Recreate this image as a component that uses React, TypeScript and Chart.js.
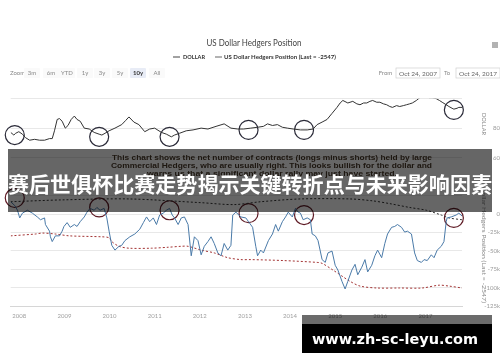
import React, { useEffect, useRef } from "react";
import { Chart, registerables } from "chart.js";

Chart.register(...registerables);

// ---------- data ----------
const X_MIN = 2007.81; // Oct 24, 2007
const X_MAX = 2017.81; // Oct 24, 2017
const yearTicks = [2008, 2009, 2010, 2011, 2012, 2013, 2014, 2015, 2016, 2017];
const dollarTicks = [60, 80, 100];
const hedgerTicks = [25, 0, -25, -50, -75, -100, -125];

const dollarDates = [
  2007.81, 2007.88, 2007.92, 2007.99, 2008.07, 2008.14, 2008.23, 2008.34, 2008.45, 2008.56,
  2008.67, 2008.73, 2008.78, 2008.84, 2008.89, 2008.95, 2009.02, 2009.08, 2009.15, 2009.22,
  2009.28, 2009.35, 2009.44, 2009.55, 2009.66, 2009.77, 2009.83, 2009.9, 2009.99, 2010.12,
  2010.27, 2010.36, 2010.43, 2010.54, 2010.65, 2010.78, 2010.89, 2011.0, 2011.15, 2011.26,
  2011.37, 2011.44, 2011.55, 2011.7, 2011.85, 2012.03, 2012.18, 2012.36, 2012.54, 2012.69,
  2012.84, 2012.97, 2013.13, 2013.28, 2013.41, 2013.5, 2013.61, 2013.72, 2013.83, 2013.94,
  2014.07, 2014.23, 2014.38, 2014.51, 2014.6, 2014.71, 2014.82, 2014.93, 2015.04, 2015.11,
  2015.17, 2015.28, 2015.39, 2015.48, 2015.55, 2015.63, 2015.7, 2015.77, 2015.83, 2015.92,
  2015.99, 2016.07, 2016.14, 2016.21, 2016.27, 2016.36, 2016.43, 2016.51, 2016.58, 2016.65,
  2016.71, 2016.8, 2016.87, 2016.93, 2016.98, 2017.04, 2017.09, 2017.15, 2017.24, 2017.31,
  2017.37, 2017.46, 2017.52, 2017.59, 2017.63, 2017.7, 2017.74, 2017.81,
];
const dollarValues = [
  77.1, 75.3, 76.5, 77.6, 75.9, 73.5, 71.8, 72.4, 71.8, 71.8,
  72.9, 72.9, 78.2, 85.9, 86.5, 84.7, 80.0, 81.8, 85.9, 88.2,
  85.9, 84.7, 80.0, 79.4, 77.1, 75.9, 75.3, 76.5, 78.2, 80.0,
  82.4, 85.3, 87.6, 84.1, 82.4, 77.6, 79.4, 80.0, 77.1, 75.9,
  74.1, 75.3, 76.5, 78.2, 78.8, 80.0, 79.4, 81.2, 82.9, 80.0,
  79.4, 79.4, 80.0, 80.6, 81.2, 82.9, 81.8, 82.4, 80.6, 80.0,
  79.4, 78.8, 78.8, 79.4, 82.4, 84.1, 85.9, 90.0, 94.1, 97.1,
  98.8, 97.1, 98.2, 96.5, 95.9, 97.1, 97.1, 98.2, 98.8, 97.6,
  97.6, 96.5, 95.9, 94.7, 94.1, 95.3, 94.7, 95.3, 95.9, 96.5,
  97.1, 98.8, 100.6, 102.4, 103.5, 101.8, 100.6, 100.6, 100.0, 98.8,
  97.6, 95.9, 94.7, 93.5, 92.9, 93.5, 94.1, 94.1,
];

// US Dollar Hedgers Position, thousands of contracts
const hedgerDates = [
  2007.81, 2007.9, 2007.96, 2008.01, 2008.07, 2008.18, 2008.29, 2008.4, 2008.47, 2008.56,
  2008.58, 2008.67, 2008.69, 2008.73, 2008.8, 2008.89, 2008.95, 2008.99, 2009.06, 2009.13,
  2009.22, 2009.28, 2009.35, 2009.44, 2009.5, 2009.57, 2009.66, 2009.72, 2009.79, 2009.88,
  2009.94, 2009.99, 2010.05, 2010.12, 2010.21, 2010.27, 2010.34, 2010.45, 2010.56, 2010.67,
  2010.75, 2010.82, 2010.89, 2010.97, 2011.04, 2011.11, 2011.19, 2011.26, 2011.33, 2011.39,
  2011.44, 2011.52, 2011.59, 2011.66, 2011.74, 2011.81, 2011.88, 2011.96, 2012.03, 2012.1,
  2012.18, 2012.25, 2012.32, 2012.4, 2012.47, 2012.54, 2012.62, 2012.69, 2012.73, 2012.8,
  2012.91, 2013.02, 2013.08, 2013.17, 2013.24, 2013.28, 2013.35, 2013.41, 2013.52, 2013.61,
  2013.68, 2013.74, 2013.83, 2013.9, 2013.96, 2014.05, 2014.12, 2014.18, 2014.23, 2014.29,
  2014.38, 2014.45, 2014.49, 2014.56, 2014.62, 2014.71, 2014.78, 2014.84, 2014.93, 2015.0,
  2015.06, 2015.15, 2015.22, 2015.28, 2015.37, 2015.44, 2015.5, 2015.59, 2015.66, 2015.72,
  2015.81, 2015.88, 2015.94, 2016.03, 2016.1, 2016.16, 2016.25, 2016.32, 2016.38, 2016.47,
  2016.54, 2016.6, 2016.69, 2016.76, 2016.82, 2016.91, 2016.97, 2017.04, 2017.13, 2017.19,
  2017.26, 2017.35, 2017.41, 2017.46, 2017.48, 2017.57, 2017.68, 2017.74, 2017.81,
];
const hedgerValues = [
  16.8, 11.6, 5.2, -5.2, 1.3, 5.2, 1.3, -3.9, -7.7, -5.2,
  -14.2, -23.2, -30.9, -37.4, -29.6, -29.6, -23.2, -16.8, -11.6, -18.0,
  -14.2, -16.8, -10.3, -3.9, 2.6, 7.7, 5.2, 9.0, 5.2, 7.7,
  -5.2, -23.2, -42.5, -49.0, -43.8, -42.5, -36.1, -30.9, -27.1, -20.6,
  -11.6, -3.9, -10.3, -5.2, -14.2, -1.3, 1.3, 5.2, 7.7, -1.3,
  -5.2, -14.2, -5.2, -3.9, -14.2, -56.7, -30.9, -36.1, -55.4, -43.8,
  -37.4, -30.9, -40.0, -52.8, -56.7, -40.0, -49.0, -42.5, -1.3, 2.6,
  -3.9, -5.2, -10.3, -18.0, -43.8, -56.7, -49.0, -52.8, -36.1, -27.1,
  -14.2, -23.2, -10.3, -3.9, 2.6, -3.9, 7.7, 2.6, 1.3, -7.7,
  -5.2, -7.7, -27.1, -29.6, -36.1, -61.9, -65.7, -52.8, -50.3, -69.6,
  -76.1, -91.5, -101.8, -91.5, -76.1, -68.3, -82.5, -72.2, -61.9, -78.6,
  -69.6, -56.7, -49.0, -59.3, -40.0, -27.1, -18.0, -16.8, -14.2, -18.0,
  -24.5, -23.2, -27.1, -52.8, -63.2, -65.7, -61.9, -63.2, -55.4, -59.3,
  -49.0, -43.8, -37.4, -10.3, -5.2, -3.9, -1.3, 1.3, -2.5,
];

// black dashed band (upper)
const upperBandDates = [
  2007.81, 2008.95, 2010.43, 2012.03, 2012.76, 2013.35, 2014.23, 2015.33, 2015.83, 2016.21,
  2016.65, 2017.02, 2017.35, 2017.52, 2017.81,
];
const upperBandValues = [
  16.8, 19.3, 20.6, 15.5, 12.9, 16.8, 20.6, 20.6, 18.0, 14.2,
  9.0, 5.2, -1.3, -5.2, -7.7,
];

// red dashed band (lower)
const lowerBandDates = [
  2007.81, 2008.36, 2008.51, 2008.8, 2009.11, 2009.83, 2009.99, 2010.05, 2010.21, 2010.43,
  2010.93, 2011.3, 2011.59, 2011.74, 2012.03, 2012.32, 2012.62, 2012.91, 2013.13, 2013.85,
  2014.6, 2014.71, 2014.95, 2015.17, 2015.33, 2015.55, 2015.92, 2016.43, 2016.93, 2017.3,
  2017.52, 2017.81,
];
const lowerBandValues = [
  -29.6, -27.1, -25.8, -27.1, -29.6, -30.9, -32.2, -37.4, -43.8, -46.4,
  -46.4, -45.1, -43.8, -43.8, -49.0, -52.8, -59.3, -61.9, -61.9, -63.2,
  -65.7, -67.0, -76.1, -85.1, -91.5, -97.9, -100.5, -100.5, -100.5, -96.7,
  -97.9, -100.5,
];

// hand-drawn circle marks
const markDates = [2007.9, 2009.77, 2011.33, 2013.08, 2014.31, 2017.63];
const dollarMarkValues = [75.3, 74.1, 74.1, 78.8, 78.8, 92.4];
const hedgerMarkValues = [21.9, 9.0, 5.2, 1.3, -1.3, -5.2];

// ---------- helpers ----------
const pts = (xs: number[], ys: number[]) => xs.map((x, i) => ({ x, y: ys[i] }));
const TICK_FONT = { size: 6, family: "Lato, 'Open Sans', sans-serif" };
const GRID = "#e8e8e8";
const AXIS_W = 38;

function upperConfig(): any {
  return {
    type: "line",
    data: {
      datasets: [
        {
          label: "DOLLAR",
          data: pts(dollarDates, dollarValues),
          borderColor: "#333333",
          borderWidth: 1,
          pointRadius: 0,
          tension: 0,
        },
        {
          label: "marks",
          data: pts(markDates, dollarMarkValues),
          showLine: false,
          pointRadius: 9.5,
          pointBorderWidth: 1.2,
          pointBorderColor: "#2a2a38",
          pointBackgroundColor: "rgba(0,0,0,0)",
          clip: false,
        },
      ],
    },
    options: {
      responsive: false,
      animation: false,
      events: [],
      layout: { padding: { left: 8, right: 0, top: 5, bottom: 5 } },
      plugins: { legend: { display: false }, tooltip: { enabled: false }, title: { display: false } },
      scales: {
        x: { type: "linear", min: X_MIN, max: X_MAX, display: false },
        y: {
          position: "right",
          min: 50,
          max: 100,
          afterBuildTicks: (s: any) => {
            s.ticks = dollarTicks.map((v) => ({ value: v }));
          },
          afterFit: (s: any) => {
            s.width = AXIS_W;
          },
          grid: { color: GRID, drawTicks: false, lineWidth: 1 },
          border: { display: false },
          ticks: {
            autoSkip: false,
            crossAlign: "far",
            padding: 6,
            font: TICK_FONT,
            color: "#9a9a9a",
            callback: (v: number) => (v === 100 ? "" : String(v)),
          },
        },
      },
    },
  };
}

function lowerConfig(): any {
  return {
    type: "line",
    data: {
      datasets: [
        {
          label: "US Dollar Hedgers Position",
          data: pts(hedgerDates, hedgerValues),
          borderColor: "#4a7aa8",
          borderWidth: 1,
          pointRadius: 0,
          tension: 0,
        },
        {
          label: "upper band",
          data: pts(upperBandDates, upperBandValues),
          borderColor: "#333333",
          borderWidth: 1,
          borderDash: [2, 2],
          pointRadius: 0,
          tension: 0.3,
        },
        {
          label: "lower band",
          data: pts(lowerBandDates, lowerBandValues),
          borderColor: "#a33333",
          borderWidth: 1,
          borderDash: [2, 2],
          pointRadius: 0,
          tension: 0.3,
        },
        {
          label: "marks",
          data: pts(markDates, hedgerMarkValues),
          showLine: false,
          pointRadius: 9.5,
          pointBorderWidth: 1.2,
          pointBorderColor: "#5e1a24",
          pointBackgroundColor: "rgba(0,0,0,0)",
          clip: false,
        },
      ],
    },
    options: {
      responsive: false,
      animation: false,
      events: [],
      layout: { padding: { left: 8, right: 0, top: 5, bottom: 0 } },
      plugins: { legend: { display: false }, tooltip: { enabled: false }, title: { display: false } },
      scales: {
        x: {
          type: "linear",
          min: X_MIN,
          max: X_MAX,
          position: "bottom",
          afterBuildTicks: (s: any) => {
            s.ticks = yearTicks.map((v) => ({ value: v }));
          },
          afterFit: (s: any) => {
            s.height = 19;
          },
          grid: { display: false, drawTicks: false },
          border: { display: true, color: "#d6d6d6", width: 1 },
          ticks: {
            autoSkip: false,
            maxRotation: 0,
            padding: 6,
            font: TICK_FONT,
            color: "#a0a0a0",
            callback: (v: number) => String(v),
          },
        },
        y: {
          position: "right",
          min: -125,
          max: 25,
          afterBuildTicks: (s: any) => {
            s.ticks = hedgerTicks.map((v) => ({ value: v }));
          },
          afterFit: (s: any) => {
            s.width = AXIS_W;
          },
          grid: { color: GRID, drawTicks: false, lineWidth: 1 },
          border: { display: false },
          ticks: {
            autoSkip: false,
            crossAlign: "far",
            padding: 1,
            font: TICK_FONT,
            color: "#9a9a9a",
            callback: (v: number) => (v === 25 ? "" : v === 0 ? "0" : `${v}k`),
          },
        },
      },
    },
  };
}

const zoomButtons = [
  { t: "3m", cx: 32 },
  { t: "6m", cx: 51 },
  { t: "YTD", cx: 67 },
  { t: "1y", cx: 85 },
  { t: "3y", cx: 102 },
  { t: "5y", cx: 120 },
  { t: "10y", cx: 138 },
  { t: "All", cx: 157 },
];

const UI_FONT = "Lato, 'Open Sans', 'DejaVu Sans', sans-serif";

export default function App() {
  const c1 = useRef<HTMLCanvasElement>(null);
  const c2 = useRef<HTMLCanvasElement>(null);

  useEffect(() => {
    const ch1 = new Chart(c1.current as HTMLCanvasElement, upperConfig());
    const ch2 = new Chart(c2.current as HTMLCanvasElement, lowerConfig());
    return () => {
      ch1.destroy();
      ch2.destroy();
    };
  }, []);

  return (
    <div
      style={{
        position: "fixed",
        left: 0,
        top: 0,
        width: 500,
        height: 362,
        background: "#ffffff",
        overflow: "hidden",
      }}
    >
      <canvas
        ref={c1}
        width={500}
        height={95}
        style={{ position: "absolute", left: 0, top: 88, width: 500, height: 95 }}
      />
      <canvas
        ref={c2}
        width={500}
        height={140}
        style={{ position: "absolute", left: 0, top: 185, width: 500, height: 140 }}
      />
      <svg
        width={500}
        height={362}
        style={{ position: "absolute", left: 0, top: 0, pointerEvents: "none" }}
      >
        {/* title */}
        <text
          x={254}
          y={46}
          textAnchor="middle"
          fontSize={8.5}
          fill="#444"
          fontFamily={UI_FONT}
          textLength={95}
          lengthAdjust="spacingAndGlyphs"
        >
          US Dollar Hedgers Position
        </text>
        {/* menu icon */}
        <rect x={492} y={42.5} width={6} height={1} fill="#666" />
        <rect x={492} y={44.5} width={6} height={1} fill="#666" />
        <rect x={492} y={46.5} width={6} height={1} fill="#666" />

        {/* legend */}
        <line x1={173} x2={180} y1={57} y2={57} stroke="#444" strokeWidth={1} />
        <text x={183} y={59} fontSize={6} fontWeight={700} fill="#333" fontFamily={UI_FONT} textLength={22} lengthAdjust="spacingAndGlyphs">
          DOLLAR
        </text>
        <line x1={215} x2={222} y1={57} y2={57} stroke="#666" strokeWidth={1} />
        <text x={224} y={59} fontSize={6} fontWeight={700} fill="#333" fontFamily={UI_FONT} textLength={112} lengthAdjust="spacingAndGlyphs">
          US Dollar Hedgers Position (Last = -2547)
        </text>

        {/* range selector */}
        <text x={10} y={75} fontSize={6} fill="#888" fontFamily={UI_FONT}>
          Zoom
        </text>
        {zoomButtons.map((b) => (
          <g key={b.t}>
            <rect
              x={b.cx - 8}
              y={68}
              width={16}
              height={10}
              rx={1}
              fill={b.t === "10y" ? "#e8ecf6" : "#fafafa"}
            />
            <text
              x={b.cx}
              y={75}
              textAnchor="middle"
              fontSize={6}
              fontWeight={b.t === "10y" ? 700 : 400}
              fill={b.t === "10y" ? "#333" : "#888"}
              fontFamily={UI_FONT}
            >
              {b.t}
            </text>
          </g>
        ))}
        <text x={385.5} y={75} textAnchor="middle" fontSize={6} fill="#888" fontFamily={UI_FONT}>
          From
        </text>
        <rect x={396} y={68} width={44} height={10} fill="#fff" stroke="#d0d0d0" strokeWidth={0.7} />
        <text x={418} y={75.5} textAnchor="middle" fontSize={6.5} fill="#666" fontFamily={UI_FONT}>
          Oct 24, 2007
        </text>
        <text x={447} y={75} textAnchor="middle" fontSize={6} fill="#888" fontFamily={UI_FONT}>
          To
        </text>
        <rect x={456} y={68} width={44} height={10} fill="#fff" stroke="#d0d0d0" strokeWidth={0.7} />
        <text x={478} y={75.5} textAnchor="middle" fontSize={6.5} fill="#666" fontFamily={UI_FONT}>
          Oct 24, 2017
        </text>

        {/* axis titles */}
        <text
          transform="translate(481.5,124) rotate(90)"
          textAnchor="middle"
          fontSize={6.5}
          fill="#888"
          fontFamily={UI_FONT}
          textLength={22}
          lengthAdjust="spacingAndGlyphs"
        >
          DOLLAR
        </text>
        <text
          transform="translate(481.5,245) rotate(90)"
          textAnchor="middle"
          fontSize={6}
          fill="#888"
          fontFamily={UI_FONT}
          textLength={116}
          lengthAdjust="spacingAndGlyphs"
        >
          Dollar Hedgers Position (Last = -2547)
        </text>

        {/* annotation text from the original picture */}
        <g fontFamily="'Liberation Sans', Arial, sans-serif" fontWeight={700} fontSize={8} fill="#4a3a2a">
          <text x={112} y={160} textLength={320} lengthAdjust="spacingAndGlyphs">
            This chart shows the net number of contracts (longs minus shorts) held by large
          </text>
          <text x={111} y={168} textLength={321} lengthAdjust="spacingAndGlyphs">
            Commercial Hedgers, who are usually right. This looks bullish for the dollar and
          </text>
          <text x={147} y={176} textLength={250} lengthAdjust="spacingAndGlyphs">
            warns us that a significant dollar rally may just have started.
          </text>
        </g>

        {/* banner */}
        <rect x={8} y={149} width={484} height={63} fill="rgba(0,0,0,0.6)" />
        <text
          x={8}
          y={192}
          fontSize={21}
          fontWeight={700}
          fill="#ffffff"
          fontFamily="'Noto Sans CJK SC', sans-serif"
          textLength={484}
          lengthAdjust="spacingAndGlyphs"
        >
          赛后世俱杯比赛走势揭示关键转折点与未来影响因素
        </text>

        {/* watermark */}
        <rect x={302} y={315} width={190} height={9} fill="rgba(0,0,0,0.58)" />
        <rect x={302} y={324} width={190} height={29} fill="#000000" />
        <text
          x={312}
          y={344}
          fontSize={14}
          fontWeight={700}
          fill="#ffffff"
          fontFamily="'DejaVu Sans', Verdana, sans-serif"
          textLength={166}
          lengthAdjust="spacingAndGlyphs"
        >
          www.zh-sc-leyu.com
        </text>
      </svg>
    </div>
  );
}
